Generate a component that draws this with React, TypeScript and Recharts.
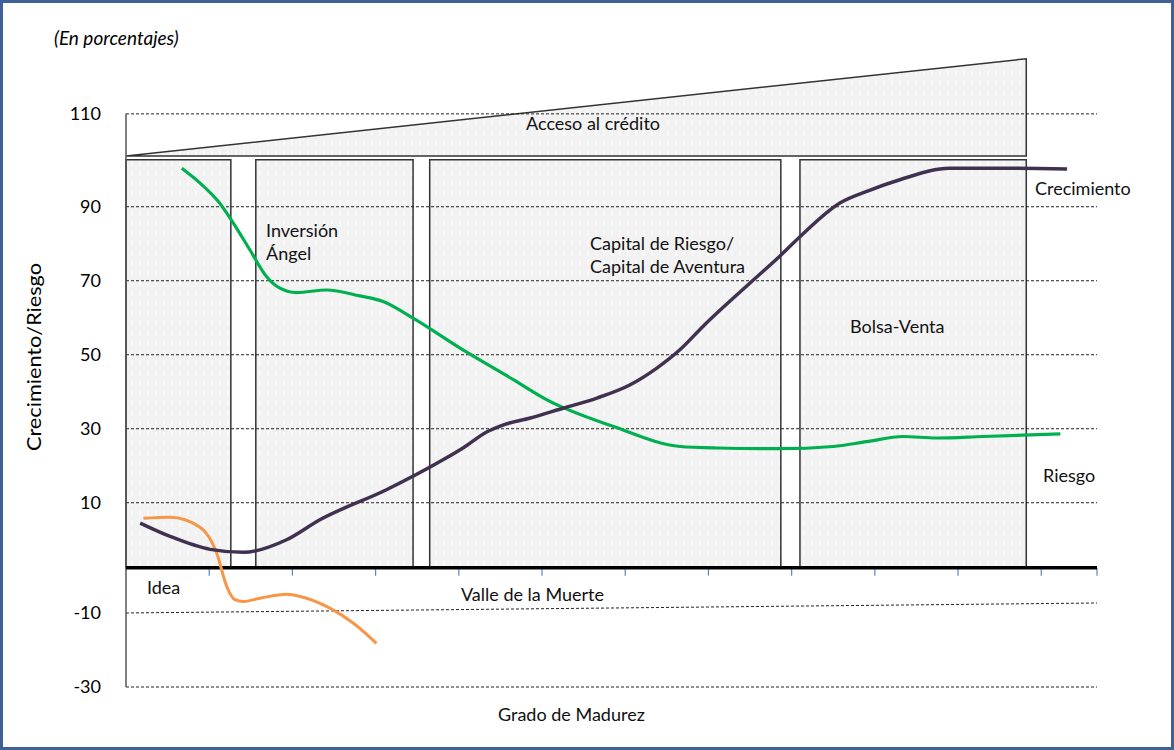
import React from 'react';
import { ComposedChart, Line, XAxis, YAxis, ReferenceArea, ReferenceLine } from 'recharts';

const FONT = 'Lato, "Open Sans", sans-serif';
const FS = 18;

// y positions (internal units, bold axis = 0) and the printed tick labels
const yTickValues = [122.7, 97.6, 77.6, 57.6, 37.6, 17.6, -12.2, -32.2];
const yTickLabels = ['110', '90', '70', '50', '30', '10', '-10', '-30'];
const gridLevels = [122.7, 97.6, 77.6, 57.6, 37.6, 17.6, -32.2];
const valleGrid = [{ x: 0, y: -12.2 }, { x: 11.67, y: -9.5 }];
const xTickMarks = [1, 2, 3, 4, 5, 6, 7, 8, 9, 10, 11, 11.67];

const stages = [
  { name: 'Idea', x1: 0, x2: 1.26 },
  { name: 'Inversión Ángel', x1: 1.56, x2: 3.45 },
  { name: 'Capital de Riesgo', x1: 3.65, x2: 7.87 },
  { name: 'Bolsa-Venta', x1: 8.1, x2: 10.82 },
];
const stageTop = 110.3;
const credito = { x1: 0, x2: 10.82, y1: 111.3, y2: 137.6 };

const crecimiento = [
  { x: 0.17, y: 12.1 }, { x: 0.53, y: 8.5 }, { x: 1.01, y: 5.0 }, { x: 1.41, y: 4.2 },
  { x: 1.93, y: 7.6 }, { x: 2.33, y: 13.0 }, { x: 3.13, y: 21.1 }, { x: 3.81, y: 29.2 },
  { x: 4.05, y: 32.4 }, { x: 4.34, y: 36.8 }, { x: 4.53, y: 38.6 }, { x: 4.86, y: 40.5 },
  { x: 5.26, y: 43.2 }, { x: 5.66, y: 45.9 }, { x: 6.06, y: 49.5 }, { x: 6.38, y: 54.0 },
  { x: 6.66, y: 59.0 }, { x: 6.94, y: 65.4 }, { x: 7.54, y: 77.8 }, { x: 7.86, y: 84.3 },
  { x: 8.1, y: 89.5 }, { x: 8.58, y: 98.6 }, { x: 8.92, y: 101.9 }, { x: 9.3, y: 104.9 },
  { x: 9.9, y: 108.0 }, { x: 10.5, y: 108.0 }, { x: 11.31, y: 107.8 },
];

const riesgo = [
  { x: 0.67, y: 108.0 }, { x: 0.89, y: 104.0 }, { x: 1.11, y: 99.0 }, { x: 1.29, y: 93.2 },
  { x: 1.49, y: 85.9 }, { x: 1.69, y: 78.7 }, { x: 1.85, y: 75.6 }, { x: 2.05, y: 74.4 },
  { x: 2.41, y: 75.1 }, { x: 2.81, y: 73.5 }, { x: 3.09, y: 72.0 }, { x: 3.45, y: 67.5 },
  { x: 4.05, y: 58.9 }, { x: 4.66, y: 50.8 }, { x: 5.06, y: 45.4 }, { x: 5.86, y: 38.2 },
  { x: 6.66, y: 32.8 }, { x: 7.1, y: 32.4 }, { x: 7.86, y: 32.2 }, { x: 8.5, y: 32.8 },
  { x: 8.9, y: 34.1 }, { x: 9.34, y: 35.5 }, { x: 9.74, y: 35.1 }, { x: 10.3, y: 35.5 },
  { x: 11.23, y: 36.2 },
];

const valle = [
  { x: 0.21, y: 13.4 }, { x: 0.53, y: 13.7 }, { x: 0.89, y: 11.0 }, { x: 1.09, y: 4.0 },
  { x: 1.21, y: -5.0 }, { x: 1.31, y: -8.6 }, { x: 1.41, y: -9.1 }, { x: 1.61, y: -8.2 },
  { x: 1.93, y: -7.1 }, { x: 2.17, y: -8.2 }, { x: 2.45, y: -10.9 }, { x: 2.73, y: -14.9 },
  { x: 3.01, y: -20.4 },
];

const texts = [
  { t: 'Acceso al crédito', x: 526, y: 129.5 },
  { t: 'Inversión', x: 266, y: 236.5 },
  { t: 'Ángel', x: 266, y: 260 },
  { t: 'Capital de Riesgo/', x: 590, y: 249.5 },
  { t: 'Capital de Aventura', x: 590, y: 273 },
  { t: 'Bolsa-Venta', x: 850, y: 333 },
  { t: 'Crecimiento', x: 1035, y: 194.5 },
  { t: 'Riesgo', x: 1043, y: 481.5 },
  { t: 'Idea', x: 147, y: 593.5 },
  { t: 'Valle de la Muerte', x: 461, y: 601 },
  { t: 'Grado de Madurez', x: 498, y: 721 },
];

const W = 1174;
const H = 750;

export default function App() {
  const trapezoid = (p: any) => {
    const { x, y, width, height } = p;
    return (
      <path
        d={`M${x},${y + height} L${x + width},${y} L${x + width},${y + height} Z`}
        fill="url(#hatch)"
        stroke="#333"
        strokeWidth={1.5}
      />
    );
  };
  return (
    <div style={{ position: 'absolute', left: 0, top: 0, width: W, height: H, background: '#fff' }}>
      <svg width={0} height={0} style={{ position: 'absolute' }}>
        <defs>
          <pattern id="hatch" width={8} height={10} patternUnits="userSpaceOnUse">
            <rect x={0} y={0} width={8} height={10} fill="#f2f2f2" />
            <line x1={4} y1={0} x2={4} y2={6} stroke="#ffffff" strokeWidth={1} />
          </pattern>
        </defs>
      </svg>
      <div style={{ position: 'absolute', left: 0, top: 0 }}>
        <ComposedChart width={W} height={H} margin={{ top: 58, right: 77, bottom: 63, left: 0 }}>
          <XAxis type="number" dataKey="x" domain={[0, 11.67]} hide allowDataOverflow />
          <YAxis
            type="number"
            domain={[-32.2, 137.8]}
            ticks={yTickValues}
            interval={0}
            width={126}
            tickSize={0}
            tickMargin={25}
            axisLine={false}
            tickLine={false}
            allowDataOverflow
            tickFormatter={(v: number) => {
              const i = yTickValues.indexOf(v);
              return i >= 0 ? yTickLabels[i] : '';
            }}
            tick={{ fill: '#000', fontSize: FS, fontFamily: FONT }}
          />
          <ReferenceArea
            x1={credito.x1}
            x2={credito.x2}
            y1={credito.y1}
            y2={credito.y2}
            ifOverflow="visible"
            shape={trapezoid}
          />
          {stages.map((s) => (
            <ReferenceArea
              key={s.name}
              x1={s.x1}
              x2={s.x2}
              y1={0}
              y2={stageTop}
              fill="url(#hatch)"
              fillOpacity={1}
              stroke="#333"
              strokeWidth={1.5}
              ifOverflow="visible"
            />
          ))}
          {gridLevels.map((v) => (
            <ReferenceLine
              key={'g' + v}
              segment={[{ x: 0, y: v }, { x: 11.67, y: v }]}
              stroke="#222"
              strokeDasharray="3 2"
              strokeWidth={1}
              ifOverflow="visible"
            />
          ))}
          <ReferenceLine
            segment={valleGrid}
            stroke="#222"
            strokeDasharray="3 2"
            strokeWidth={1}
            ifOverflow="visible"
          />
          <ReferenceLine
            segment={[{ x: 0, y: -32.2 }, { x: 0, y: 122.7 }]}
            stroke="#555"
            strokeWidth={1.5}
            ifOverflow="visible"
          />
          {xTickMarks.map((t) => (
            <ReferenceLine
              key={'t' + t}
              segment={[{ x: t, y: 0 }, { x: t, y: -2.1 }]}
              stroke="#5b87c5"
              strokeWidth={1.2}
              ifOverflow="visible"
            />
          ))}
          <ReferenceLine
            segment={[{ x: 0, y: 0 }, { x: 11.67, y: 0 }]}
            stroke="#000"
            strokeWidth={3.5}
            ifOverflow="visible"
          />
          <Line data={valle} dataKey="y" type="monotone" stroke="#f79646" strokeWidth={3} dot={false} isAnimationActive={false} />
          <Line data={riesgo} dataKey="y" type="monotone" stroke="#00b050" strokeWidth={3.2} dot={false} isAnimationActive={false} />
          <Line data={crecimiento} dataKey="y" type="monotone" stroke="#403151" strokeWidth={3.5} dot={false} isAnimationActive={false} />
        </ComposedChart>
      </div>
      <svg width={W} height={H} style={{ position: 'absolute', left: 0, top: 0, pointerEvents: 'none' }}>
        <text x={54} y={45} fontFamily={FONT} fontSize={19} fontStyle="italic" fill="#000">(En porcentajes)</text>
        <text
          transform="translate(34,357) rotate(-90)"
          textAnchor="middle"
          dy="0.35em"
          fontFamily={FONT}
          fontSize={19.5}
          textLength={188}
          lengthAdjust="spacingAndGlyphs"
          fill="#000"
        >
          Crecimiento/Riesgo
        </text>
        {texts.map((d) => (
          <text key={d.t} x={d.x} y={d.y} fontFamily={FONT} fontSize={FS} fill="#111">
            {d.t}
          </text>
        ))}
      </svg>
      <div
        style={{
          position: 'absolute',
          left: 0,
          top: 0,
          width: W,
          height: H,
          boxSizing: 'border-box',
          border: '3px solid #3e6296',
          pointerEvents: 'none',
        }}
      />
    </div>
  );
}
